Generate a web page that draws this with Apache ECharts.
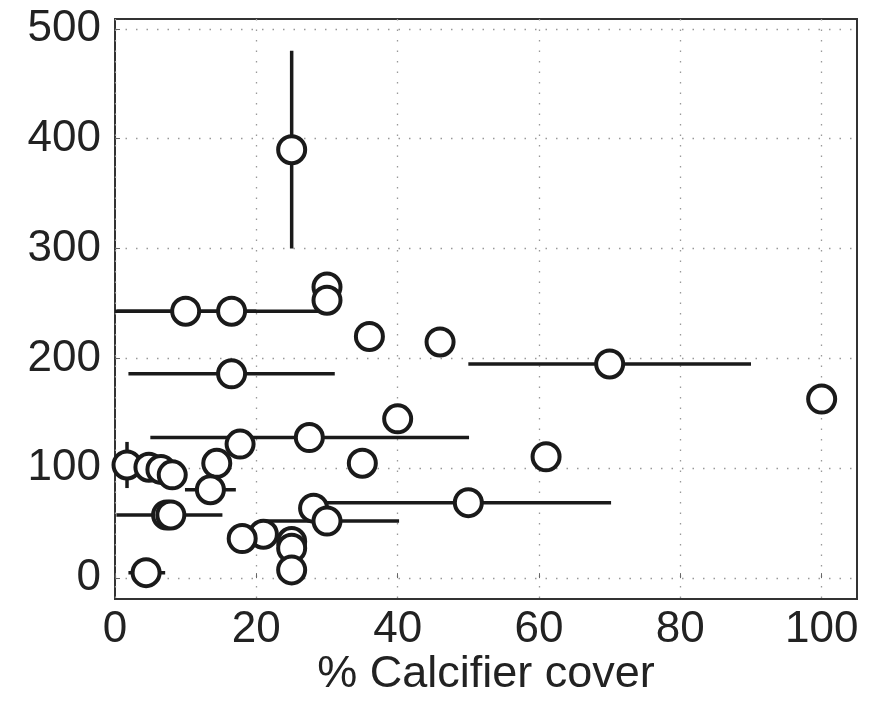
<!DOCTYPE html>
<html>
<head>
<meta charset="utf-8">
<script src="https://cdn.jsdelivr.net/npm/echarts@6/dist/echarts.min.js"></script>
<style>
  html, body { margin: 0; padding: 0; background: #fff; }
  #chart { width: 877px; height: 706px; }
</style>
</head>
<body>
<div id="chart"></div>
<script>
// Calcifier cover (%) vs. response, one entry per site
const cover = [25, 30, 30, 10, 16.5, 36, 46, 70, 16.5, 100, 40, 27.5, 17.7, 61, 1.7, 4.8, 6.5, 8.1, 14.4, 35, 13.5, 7.3, 7.9, 50, 28.1, 30, 21, 18, 25, 25, 25, 4.4];
const response = [390, 265, 253, 243, 243, 220, 215, 195, 186, 163, 145, 128, 122, 110.5, 103, 101, 99, 94, 104.5, 104.6, 80.5, 57.5, 57.5, 68.7, 63.7, 52, 40, 36, 33.3, 27.3, 7.5, 5];
// horizontal error range (cover), null where no bar
const coverLow  = [null, null, null, 0, 0.3, null, null, 50, 1.9, null, null, 5, null, null, null, null, null, null, null, null, 9.9, 0.2, null, 30, null, 20.5, null, null, null, null, null, 1.9];
const coverHigh = [null, null, null, 20, 29, null, null, 90, 31.1, null, null, 50.1, null, null, null, null, null, null, null, null, 17.1, 15.2, null, 70.2, null, 40.2, null, null, null, null, null, 7.1];
// vertical error range (response), null where no bar
const respLow  = [300, null, null, null, null, null, null, null, null, null, null, null, null, null, 82, null, null, null, null, null, null, null, null, null, null, null, null, null, null, null, null, null];
const respHigh = [480, null, null, null, null, null, null, null, null, null, null, null, null, null, 124, null, null, null, null, null, null, null, null, null, null, null, null, null, null, null, null, null];

const xTicks = [0, 20, 40, 60, 80, 100];
const yTicks = [0, 100, 200, 300, 400, 500];

const points = cover.map((c, i) => [c, response[i]]);
const bars = cover.map((c, i) => [c, response[i], coverLow[i], coverHigh[i], respLow[i], respHigh[i]]);

const ink = '#1a1a1a';
const fontFamily = '"Liberation Sans", Arial, Helvetica, sans-serif';

const chart = echarts.init(document.getElementById('chart'), null, { renderer: 'canvas' });
chart.setOption({
  animation: false,
  backgroundColor: '#fff',
  grid: {
    left: 115, right: 20, top: 19, bottom: 107,
    show: true, borderColor: '#333', borderWidth: 2, backgroundColor: 'transparent'
  },
  xAxis: {
    type: 'value', min: 0, max: 105,
    name: '% Calcifier cover', nameLocation: 'middle', nameGap: 53, nameMoveOverlap: false,
    nameTextStyle: { fontFamily, fontSize: 45, color: '#222' },
    axisLine: { show: false },
    axisTick: { show: true, inside: true, length: 5, customValues: xTicks, lineStyle: { color: '#666', width: 1 } },
    axisLabel: { customValues: xTicks, fontFamily, fontSize: 44, color: '#222', margin: 9 },
    splitLine: { show: true, lineStyle: { color: '#999', width: 1.3, type: [1.5, 9] } }
  },
  yAxis: {
    type: 'value', min: -19, max: 509,
    axisLine: { show: false },
    axisTick: { show: true, inside: true, length: 5, customValues: yTicks, lineStyle: { color: '#666', width: 1 } },
    axisLabel: { customValues: yTicks, fontFamily, fontSize: 44, color: '#222', margin: 14 },
    splitLine: { show: true, lineStyle: { color: '#999', width: 1.3, type: [1.5, 9] } }
  },
  series: [
    {
      type: 'custom',
      z: 2,
      data: bars,
      clip: true,
      renderItem(params, api) {
        const x = api.value(0), y = api.value(1);
        const xl = api.value(2), xh = api.value(3), yl = api.value(4), yh = api.value(5);
        const children = [];
        const style = { stroke: ink, lineWidth: 3.5, lineCap: 'butt' };
        if (bars[params.dataIndex][2] !== null) {
          const a = api.coord([xl, y]), b = api.coord([xh, y]);
          children.push({ type: 'line', shape: { x1: a[0], y1: a[1], x2: b[0], y2: b[1] }, style });
        }
        if (bars[params.dataIndex][4] !== null) {
          const a = api.coord([x, yl]), b = api.coord([x, yh]);
          children.push({ type: 'line', shape: { x1: a[0], y1: a[1], x2: b[0], y2: b[1] }, style });
        }
        return { type: 'group', children };
      }
    },
    {
      type: 'scatter',
      z: 3,
      data: points,
      symbol: 'circle',
      symbolSize: 27,
      itemStyle: { color: '#fff', borderColor: ink, borderWidth: 4, opacity: 1 }
    }
  ]
});
</script>
</body>
</html>
